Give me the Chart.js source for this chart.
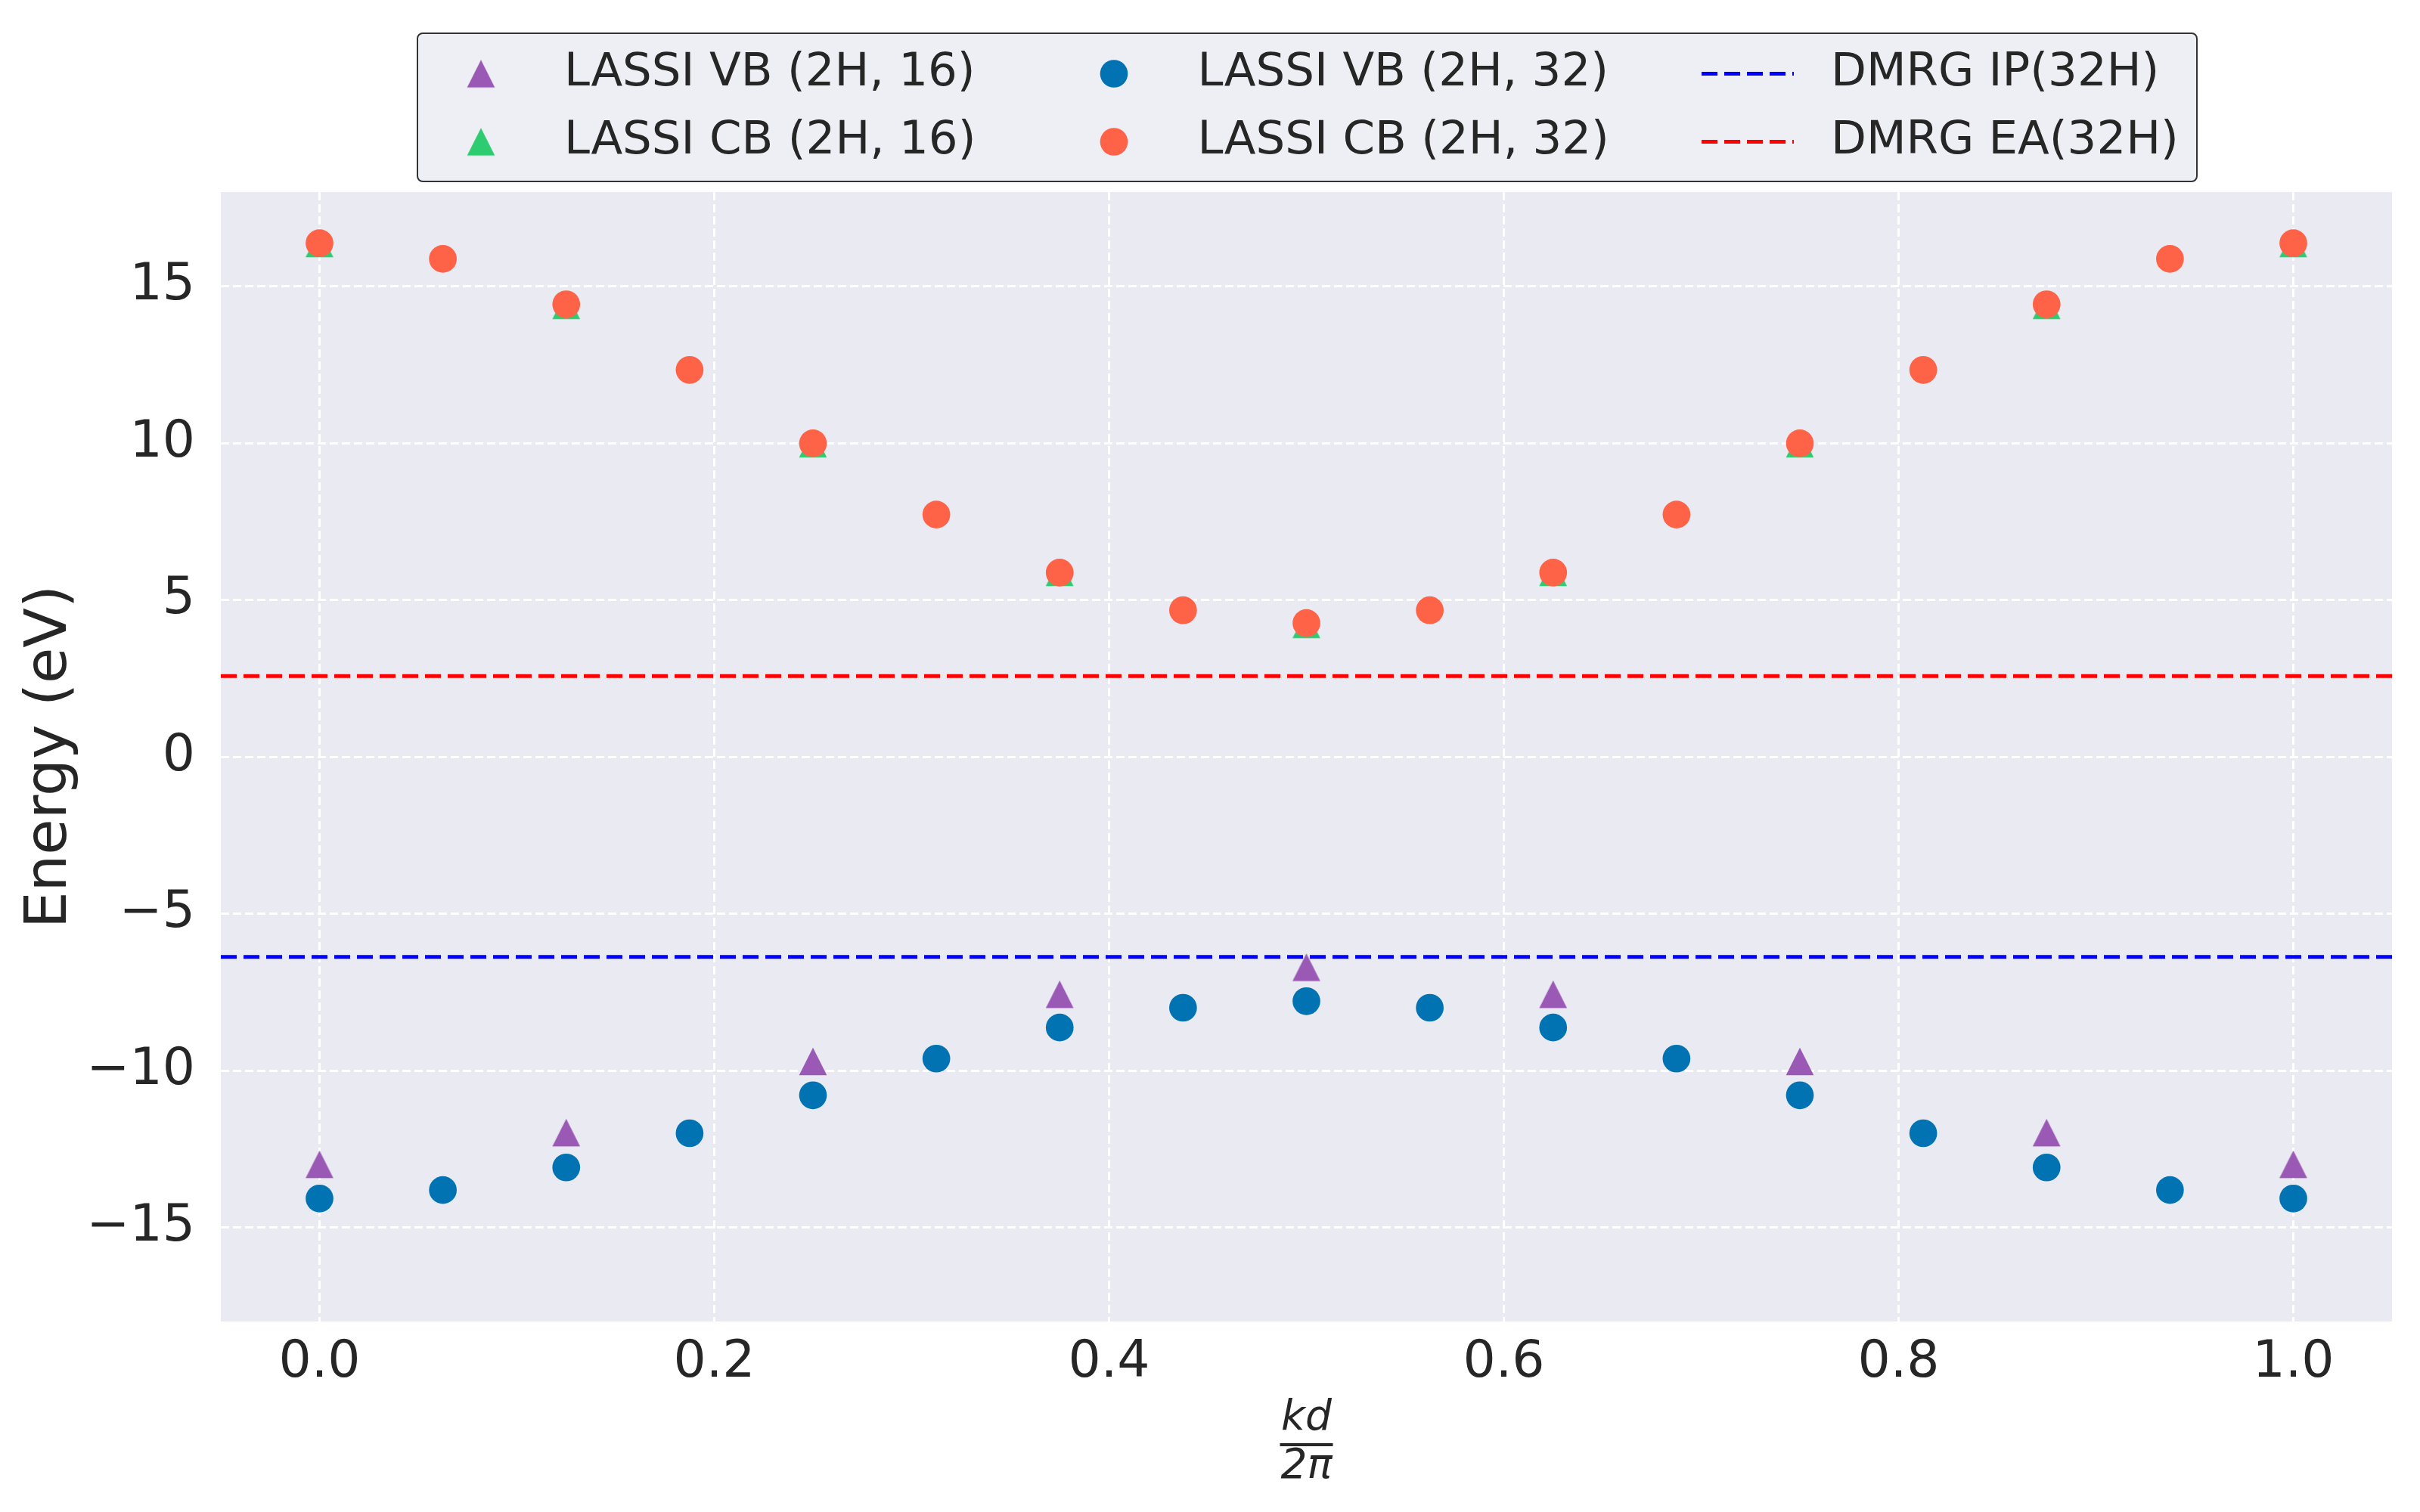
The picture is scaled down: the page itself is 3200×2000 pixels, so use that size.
<!DOCTYPE html>
<html>
<head>
<meta charset="utf-8">
<script src="https://cdn.jsdelivr.net/npm/chart.js@4.4.1/dist/chart.umd.min.js"></script>
<style>
  html, body { margin: 0; padding: 0; background: #fff; }
  #wrap { position: relative; width: 3200px; height: 2000px; }
  #bands { position: absolute; left: 0; top: 0; }
  #legend {
    position: absolute; left: 551px; top: 43px;
    width: 2355px; height: 198px; box-sizing: border-box;
    border: 2px solid #333; border-radius: 8px; background: #eeeef5;
    padding: 7px 0 0 22px;
    display: grid; grid-auto-flow: column;
    grid-template-rows: 90px 90px; grid-template-columns: auto auto auto;
    column-gap: 122px; justify-content: start;
  }
  #legend .item { display: flex; align-items: center; }
  #legend canvas { display: block; margin-right: 49px; }
  #legend span {
    font: 61px "DejaVu Sans", sans-serif; color: #262626;
    line-height: 1; white-space: nowrap; position: relative; top: -6px;
  }
</style>
</head>
<body>
<div id="wrap">
  <canvas id="bands" width="3200" height="2000"></canvas>
  <div id="legend"></div>
</div>
<script>
// ── Data ──
const x16 = [0, 0.125, 0.25, 0.375, 0.5, 0.625, 0.75, 0.875, 1.0];
const x32 = [0, 0.0625, 0.125, 0.1875, 0.25, 0.3125, 0.375, 0.4375, 0.5,
             0.5625, 0.625, 0.6875, 0.75, 0.8125, 0.875, 0.9375, 1.0];

const vb16 = [-12.99, -11.98, -9.71, -7.57, -6.71, -7.57, -9.71, -11.98, -12.99];
const cb16 = [16.36, 14.39, 9.98, 5.88, 4.22, 5.88, 9.98, 14.39, 16.36];
const vb32 = [-14.08, -13.81, -13.09, -12.0, -10.79, -9.62, -8.63, -8.0, -7.79,
              -8.0, -8.63, -9.62, -10.79, -12.0, -13.09, -13.81, -14.08];
const cb32 = [16.37, 15.87, 14.42, 12.33, 9.99, 7.72, 5.87, 4.67, 4.26,
              4.67, 5.87, 7.72, 9.99, 12.33, 14.42, 15.87, 16.37];

const dmrgIP = -6.38;
const dmrgEA = 2.57;

const xRange = [-0.05, 1.05];
const yRange = [-18, 18];
const xTicks = [0, 0.2, 0.4, 0.6, 0.8, 1.0];
const yTicks = [-15, -10, -5, 0, 5, 10, 15];

// ── Styles ──
const FONT   = '"DejaVu Sans", sans-serif';
const INK    = '#262626';
const PURPLE = '#9b59b6';
const GREEN  = '#2ecc71';
const BLUE   = '#0173b2';
const TOMATO = '#ff6347';
const MSIZE  = 36.7;

// matplotlib-style '^' marker (as wide as it is tall, centred on its box)
function triangleMarker(color) {
  const c = document.createElement('canvas');
  c.width = 40; c.height = 40;
  const g = c.getContext('2d');
  const h = MSIZE / 2;
  g.fillStyle = color;
  g.beginPath();
  g.moveTo(20, 20 - h);
  g.lineTo(20 + h, 20 + h);
  g.lineTo(20 - h, 20 + h);
  g.closePath();
  g.fill();
  return c;
}

const pts = (xs, ys) => xs.map((x, i) => ({ x: x, y: ys[i] }));
const hline = y => [{ x: xRange[0], y: y }, { x: xRange[1], y: y }];

function markerSet(label, xs, ys, color, tri, order) {
  return {
    label: label,
    data: pts(xs, ys),
    pointStyle: tri ? triangleMarker(color) : 'circle',
    pointRadius: MSIZE / 2,
    pointHoverRadius: MSIZE / 2,
    pointBorderWidth: 0,
    backgroundColor: color,
    borderColor: color,
    showLine: false,
    order: order
  };
}

function dashedSet(label, y, color, order) {
  return {
    label: label,
    data: hline(y),
    showLine: true,
    borderColor: color,
    backgroundColor: color,
    borderWidth: 5,
    borderDash: [21, 9],
    pointRadius: 0,
    pointHoverRadius: 0,
    order: order
  };
}

// ── Plot background + fraction bar under the x title ──
const panel = {
  id: 'panel',
  beforeDraw(chart) {
    const a = chart.chartArea, ctx = chart.ctx;
    ctx.save();
    ctx.fillStyle = '#eaeaf2';
    ctx.fillRect(a.left, a.top, a.right - a.left, a.bottom - a.top);
    ctx.restore();
  },
  afterDraw(chart) {
    const a = chart.chartArea, ctx = chart.ctx;
    const cx = (a.left + a.right) / 2;
    ctx.save();
    ctx.strokeStyle = INK;
    ctx.lineWidth = 4;
    ctx.beginPath();
    ctx.moveTo(cx - 35, 1911);
    ctx.lineTo(cx + 35, 1911);
    ctx.stroke();
    ctx.restore();
  }
};

const chart = new Chart(document.getElementById('bands'), {
  type: 'scatter',
  data: {
    datasets: [
      markerSet('LASSI VB (2H, 16)', x16, vb16, PURPLE, true, 5),
      markerSet('LASSI CB (2H, 16)', x16, cb16, GREEN, true, 4),
      markerSet('LASSI VB (2H, 32)', x32, vb32, BLUE, false, 3),
      markerSet('LASSI CB (2H, 32)', x32, cb32, TOMATO, false, 2),
      dashedSet('DMRG IP(32H)', dmrgIP, '#0000ff', 1),
      dashedSet('DMRG EA(32H)', dmrgEA, '#ff0000', 0)
    ]
  },
  options: {
    responsive: false,
    animation: false,
    devicePixelRatio: 1,
    layout: { padding: { left: 0, right: 37, top: 254, bottom: 0 } },
    plugins: { legend: { display: false }, tooltip: { enabled: false } },
    scales: {
      x: {
        type: 'linear',
        min: xRange[0], max: xRange[1],
        afterBuildTicks: s => { s.ticks = xTicks.map(v => ({ value: v })); },
        afterFit: s => { s.height = 252; },
        grid: { color: '#ffffff', lineWidth: 3, drawTicks: false },
        border: { display: false, dash: [11, 5] },
        ticks: {
          padding: 15, color: INK, maxRotation: 0,
          font: { family: FONT, size: 68 },
          callback: v => v.toFixed(1)
        },
        title: {
          display: true, text: ['kd', '2π'], color: INK,
          font: { family: FONT, size: 55, style: 'italic', lineHeight: '64px' },
          padding: { top: 0, bottom: 27 }
        }
      },
      y: {
        type: 'linear',
        min: yRange[0], max: yRange[1],
        afterBuildTicks: s => { s.ticks = yTicks.map(v => ({ value: v })); },
        afterFit: s => { s.width = 292; },
        grid: { color: '#ffffff', lineWidth: 3, drawTicks: false },
        border: { display: false, dash: [11, 5] },
        ticks: {
          padding: 34, color: INK,
          font: { family: FONT, size: 68 },
          callback: v => (v < 0 ? '\u2212' + Math.abs(v) : String(v))
        },
        title: {
          display: true, text: 'Energy (eV)', color: INK,
          font: { family: FONT, size: 77 },
          padding: { top: 21, bottom: 0 }
        }
      }
    }
  },
  plugins: [panel]
});

// ── HTML legend, 3 columns filled top-to-bottom like matplotlib ──
function buildLegend(chart) {
  const box = document.getElementById('legend');
  chart.data.datasets.forEach(ds => {
    const item = document.createElement('div');
    item.className = 'item';
    const icon = document.createElement('canvas');
    icon.width = 122; icon.height = 61;
    const g = icon.getContext('2d');
    if (ds.showLine) {
      g.strokeStyle = ds.borderColor;
      g.lineWidth = ds.borderWidth;
      g.setLineDash(ds.borderDash);
      g.beginPath();
      g.moveTo(0, 30.5);
      g.lineTo(122, 30.5);
      g.stroke();
    } else if (ds.pointStyle instanceof HTMLCanvasElement) {
      g.drawImage(ds.pointStyle, 61 - 20, 30.5 - 20);
    } else {
      g.fillStyle = ds.backgroundColor;
      g.beginPath();
      g.arc(61, 30.5, MSIZE / 2, 0, Math.PI * 2);
      g.fill();
    }
    const txt = document.createElement('span');
    txt.textContent = ds.label;
    item.appendChild(icon);
    item.appendChild(txt);
    box.appendChild(item);
  });
}
buildLegend(chart);
</script>
</body>
</html>
